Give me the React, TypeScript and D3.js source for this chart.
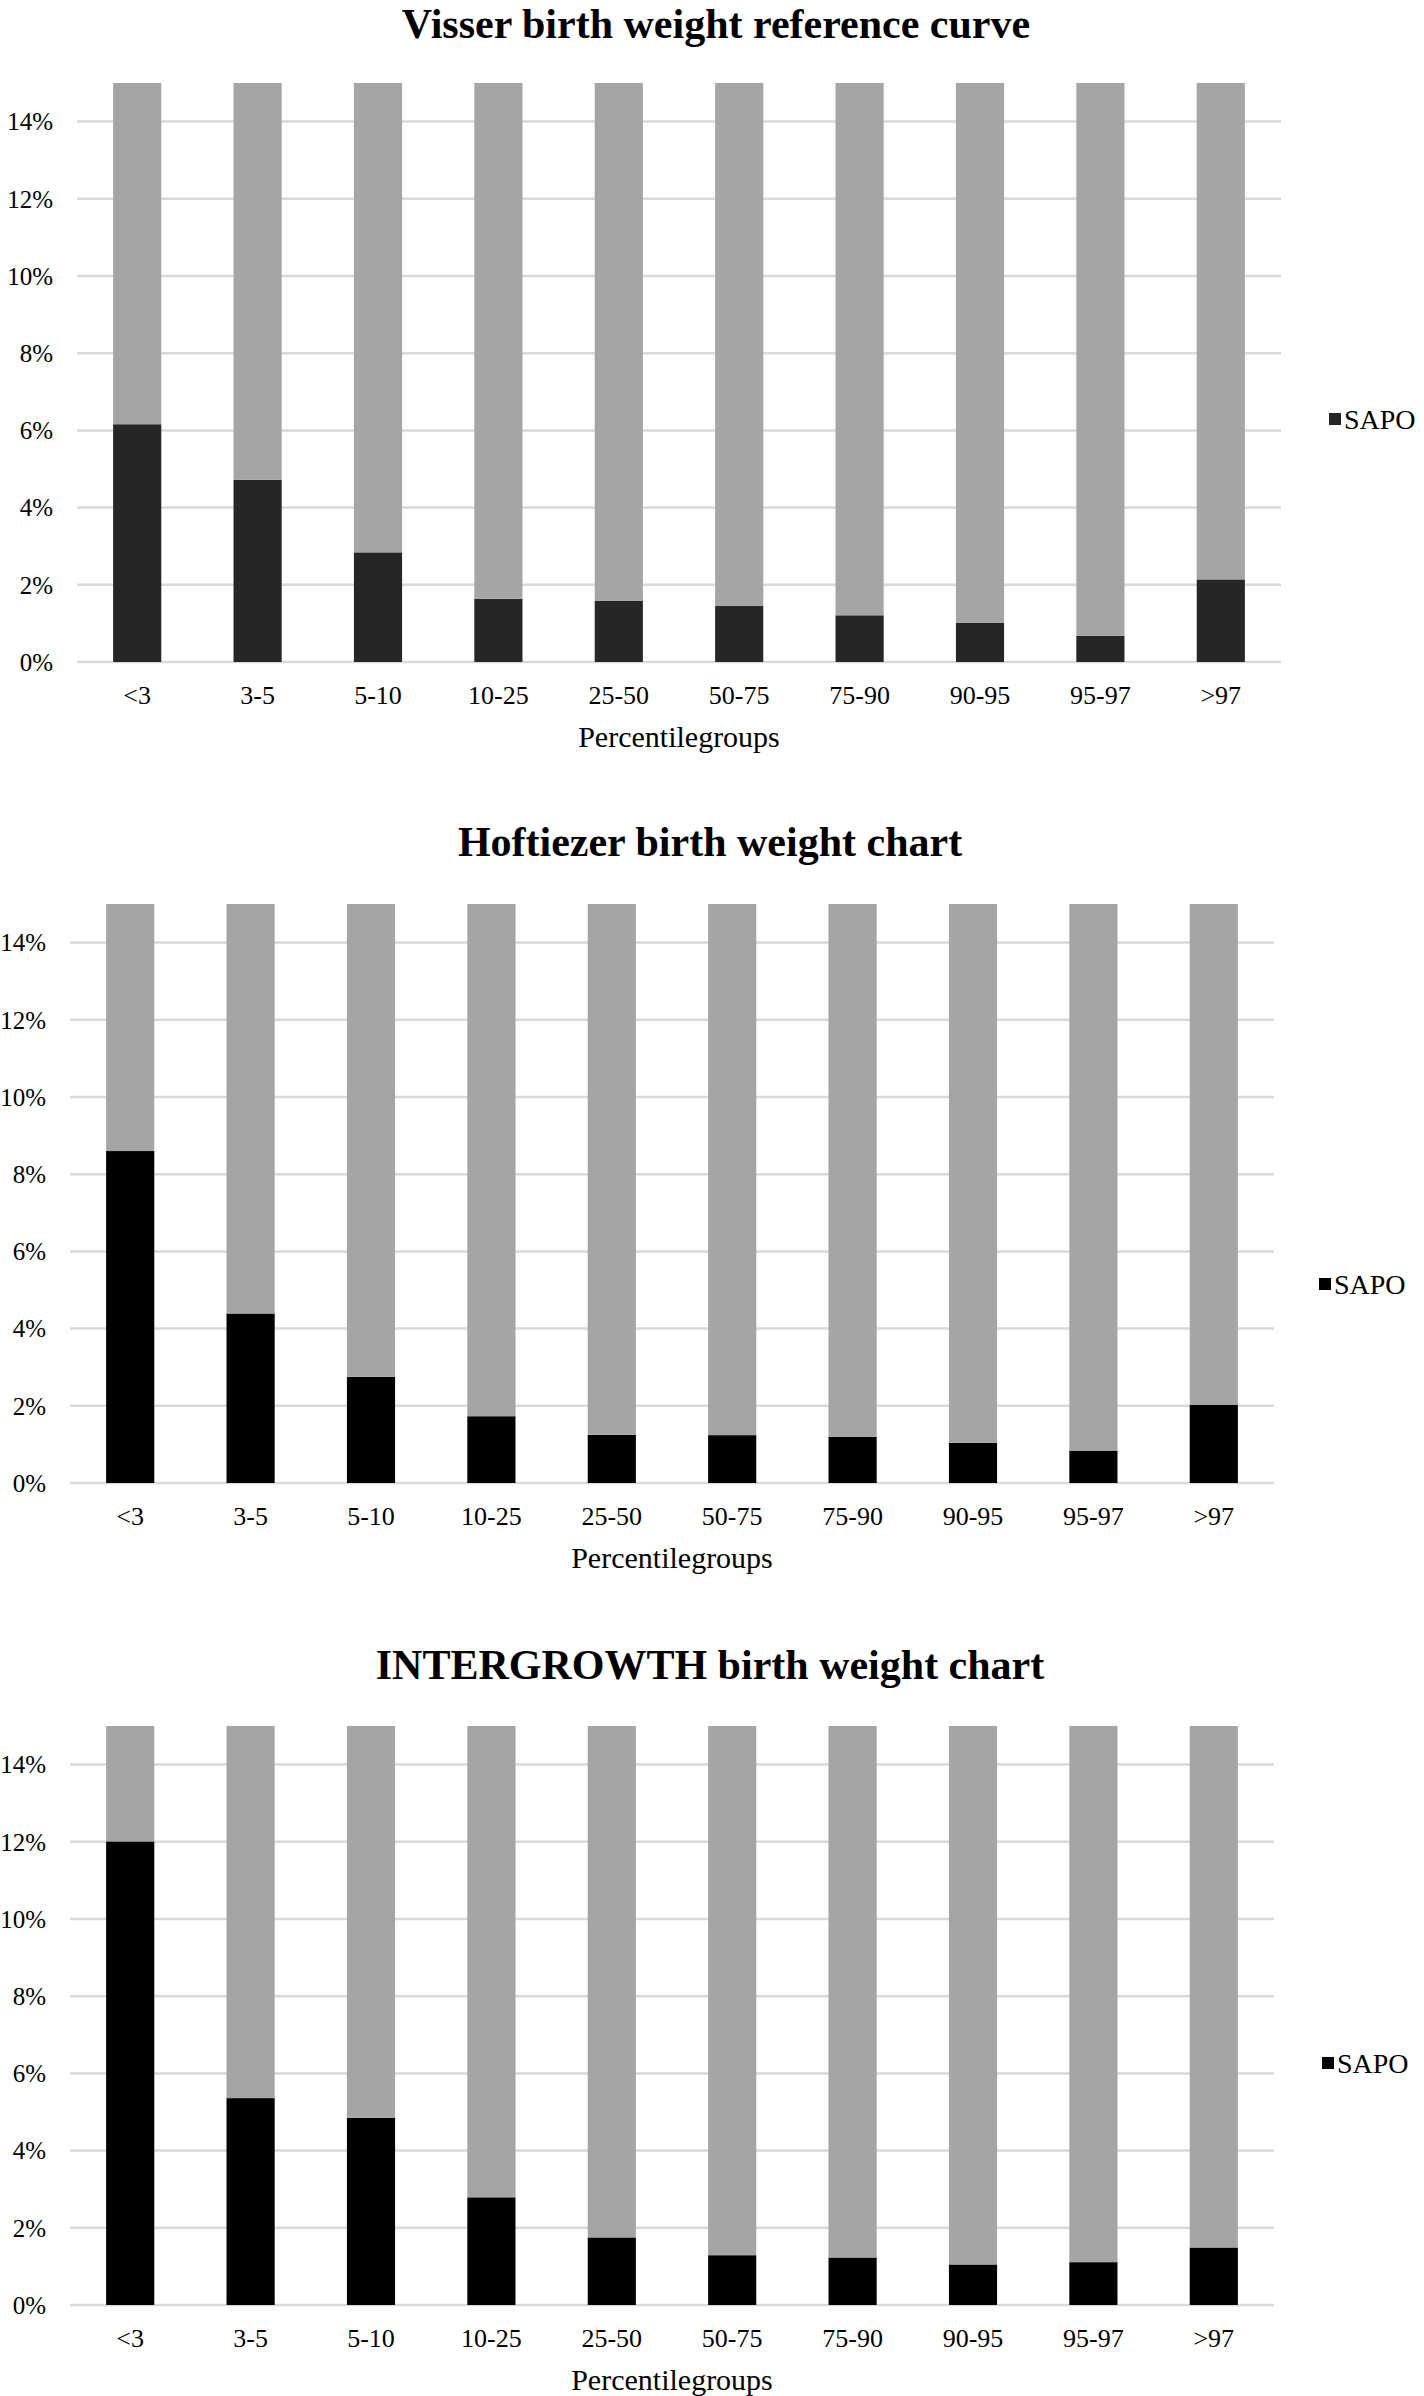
import React from "react";
import * as d3 from "d3";

// ---- data ----
const categories = ["<3", "3-5", "5-10", "10-25", "25-50", "50-75", "75-90", "90-95", "95-97", ">97"];
const visserSAPO = [6.16, 4.72, 2.84, 1.64, 1.59, 1.45, 1.21, 1.02, 0.68, 2.14];
const hoftiezerSAPO = [8.6, 4.39, 2.75, 1.73, 1.25, 1.24, 1.2, 1.04, 0.84, 2.03];
const intergrowthSAPO = [12.01, 5.36, 4.85, 2.79, 1.75, 1.29, 1.23, 1.05, 1.11, 1.49];
const yTicks = [0, 2, 4, 6, 8, 10, 12, 14];
const yAxisMax = 15;
const titles = [
  "Visser birth weight reference curve",
  "Hoftiezer birth weight chart",
  "INTERGROWTH birth weight chart",
];
const seriesName = "SAPO";
const xAxisTitle = "Percentilegroups";

// ---- layout (not data) ----
const layouts = [
  { x0: 77, x1: 1281, y0: 662, titleX: 716, titleY: 38, legendX: 1329, legendY: 419, dark: "#262626" },
  { x0: 70, x1: 1274, y0: 1483, titleX: 710, titleY: 856, legendX: 1319, legendY: 1284, dark: "#000000" },
  { x0: 70, x1: 1274, y0: 2305, titleX: 710, titleY: 1679, legendX: 1322, legendY: 2063, dark: "#000000" },
];
const PX_PER_PCT = 38.6;
const FONT = "Liberation Serif";
const GRAY = "#A5A5A5";
const GRID = "#D9D9D9";

function Panel({ title, values, layout }) {
  const x = d3.scaleBand().domain(categories).range([layout.x0, layout.x1]).paddingInner(0.6).paddingOuter(0.3);
  const y = d3
    .scaleLinear()
    .domain([0, yAxisMax])
    .range([layout.y0, layout.y0 - yAxisMax * PX_PER_PCT])
    .clamp(true);
  const rows = categories.map((c, i) => ({ cat: c, sapo: values[i], rest: 100 - values[i] }));
  const stacked = d3.stack().keys(["sapo", "rest"])(rows);
  const fmt = (v) => `${v}%`;
  const txt = { fontFamily: FONT, fill: "#000" };
  return (
    <g>
      <text x={layout.titleX} y={layout.titleY} textAnchor="middle" style={{ ...txt, fontWeight: 700, fontSize: 42 }}>
        {title}
      </text>
      {yTicks.map((t) => (
        <g key={t}>
          <line x1={layout.x0} x2={layout.x1} y1={y(t)} y2={y(t)} stroke={GRID} strokeWidth={2.5} />
          <text x={layout.x0 - 24} y={y(t)} dy="0.35em" textAnchor="end" style={{ ...txt, fontSize: 25 }}>
            {fmt(t)}
          </text>
        </g>
      ))}
      {stacked.map((layer) => (
        <g key={layer.key} fill={layer.key === "sapo" ? layout.dark : GRAY}>
          {layer.map((d, i) => (
            <rect
              key={i}
              x={x(d.data.cat)}
              width={x.bandwidth()}
              y={y(d[1])}
              height={Math.max(0, y(d[0]) - y(d[1]))}
            />
          ))}
        </g>
      ))}
      {categories.map((c) => (
        <text key={c} x={x(c) + x.bandwidth() / 2} y={layout.y0 + 41.5} textAnchor="middle" style={{ ...txt, fontSize: 26 }}>
          {c}
        </text>
      ))}
      <text x={(layout.x0 + layout.x1) / 2} y={layout.y0 + 85} textAnchor="middle" style={{ ...txt, fontSize: 30 }}>
        {xAxisTitle}
      </text>
      <rect x={layout.legendX} y={layout.legendY - 6} width={12} height={12} fill={layout.dark} />
      <text x={layout.legendX + 15} y={layout.legendY} dy="0.35em" style={{ ...txt, fontSize: 28 }}>
        {seriesName}
      </text>
    </g>
  );
}

export default function App() {
  const data = [visserSAPO, hoftiezerSAPO, intergrowthSAPO];
  return (
    <svg
      width={1424}
      height={2396}
      viewBox="0 0 1424 2396"
      style={{ position: "absolute", left: 0, top: 0, background: "#fff" }}
    >
      <rect x={0} y={0} width={1424} height={2396} fill="#fff" />
      {data.map((vals, i) => (
        <Panel key={i} title={titles[i]} values={vals} layout={layouts[i]} />
      ))}
    </svg>
  );
}
